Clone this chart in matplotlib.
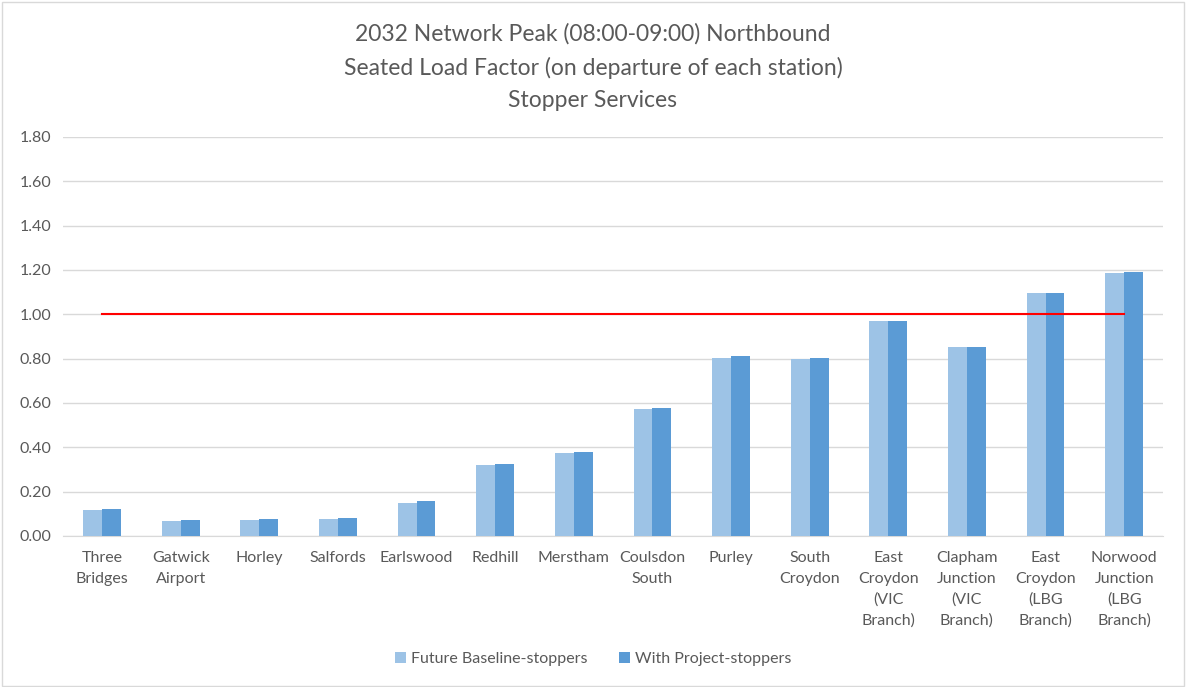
import numpy as np
import matplotlib.pyplot as plt

plt.rcParams['font.family'] = ['Lato', 'DejaVu Sans']

stations = ['Three\nBridges', 'Gatwick\nAirport', 'Horley', 'Salfords', 'Earlswood',
            'Redhill', 'Merstham', 'Coulsdon\nSouth', 'Purley', 'South\nCroydon',
            'East\nCroydon\n(VIC\nBranch)', 'Clapham\nJunction\n(VIC\nBranch)',
            'East\nCroydon\n(LBG\nBranch)', 'Norwood\nJunction\n(LBG\nBranch)']
baseline = [0.117, 0.069, 0.074, 0.077, 0.150, 0.320, 0.373, 0.572, 0.802, 0.797,
            0.970, 0.851, 1.095, 1.185]
project = [0.122, 0.074, 0.077, 0.081, 0.159, 0.323, 0.377, 0.576, 0.811, 0.802,
           0.970, 0.851, 1.098, 1.190]
threshold = [1.0] * len(stations)
yticks = [0.0, 0.2, 0.4, 0.6, 0.8, 1.0, 1.2, 1.4, 1.6, 1.8]

grey = '#595959'
fig = plt.figure(figsize=(11.86, 6.87), dpi=100)
ax = fig.add_axes([0.0529, 0.2198, 0.9281, 0.5808])

x = np.arange(len(stations))
w = 0.24
ax.bar(x - w/2, baseline, w, color='#9DC3E6', label='Future Baseline-stoppers', zorder=3)
ax.bar(x + w/2, project, w, color='#5B9BD5', label='With Project-stoppers', zorder=3)
ax.plot(x, threshold, color='#FF0000', lw=1.5, zorder=4)

ax.set_xlim(-0.5, len(stations) - 0.5)
ax.set_ylim(0, 1.8)
ax.set_yticks(yticks)
ax.set_yticklabels(['%.2f' % v for v in yticks], fontsize=11.5, color=grey)
ax.set_xticks(x)
ax.set_xticklabels(stations, fontsize=11.5, color=grey, linespacing=1.58, va='top')
ax.tick_params(axis='x', length=0, pad=11)
ax.tick_params(axis='y', length=0, pad=8)
ax.grid(axis='y', color='#d9d9d9', lw=1, zorder=0)
for s in ['top', 'right', 'left']:
    ax.spines[s].set_visible(False)
ax.spines['bottom'].set_color('#d9d9d9')

fig.text(0.5, 0.9025, '2032 Network Peak (08:00-09:00) Northbound\nSeated Load Factor (on departure of each station)\nStopper Services',
         ha='center', va='center', fontsize=16.5, color=grey, linespacing=1.65)

fig.legend(loc='center', bbox_to_anchor=(0.5, 0.041), ncol=2, frameon=False,
           fontsize=11.5, labelcolor=grey, handlelength=0.7, handleheight=0.7,
           handletextpad=0.3, columnspacing=2.0)

fig.patches.append(plt.Rectangle((0.002, 0.002), 0.996, 0.995, transform=fig.transFigure,
                                 fill=False, edgecolor='#d9d9d9', lw=1))

fig.savefig('out.png', dpi=100)
